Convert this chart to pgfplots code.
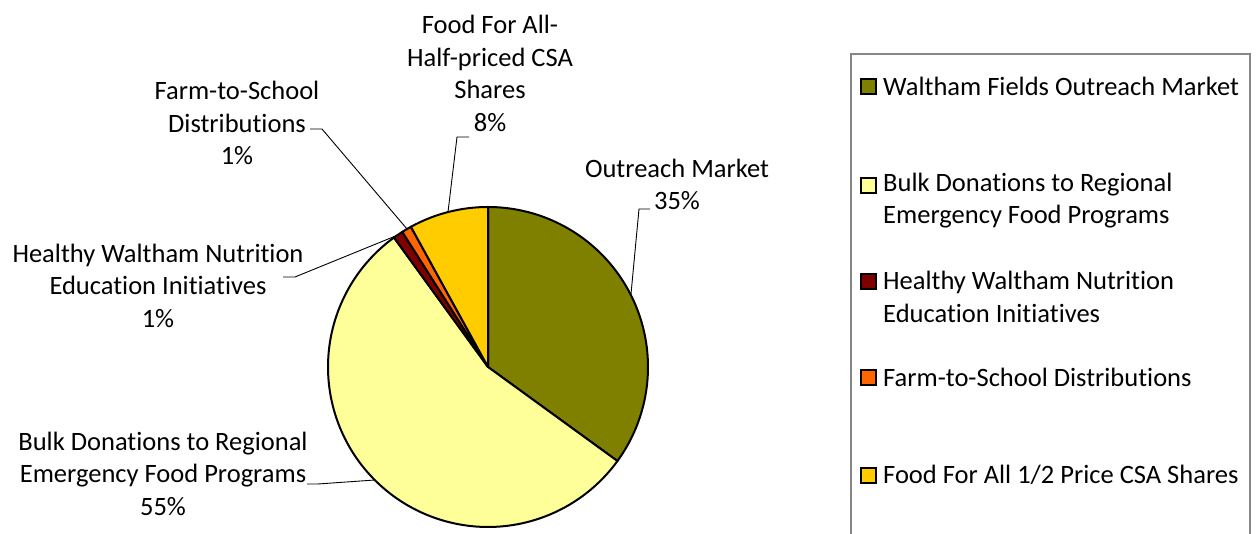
\documentclass[border=0pt]{standalone}
\usepackage{pgfplots}
\pgfplotsset{compat=1.18}
\usepackage{fontspec}
\setmainfont{Carlito}[Ligatures={NoCommon}]
\newcommand{\ti}{t\kern0pt i}
\definecolor{cOlive}{HTML}{808000}
\definecolor{cLight}{HTML}{FFFF99}
\definecolor{cDark}{HTML}{800000}
\definecolor{cOrange}{HTML}{FF6600}
\definecolor{cGold}{HTML}{FFCC00}
\definecolor{cFrame}{HTML}{868686}
\begin{document}
\begin{tikzpicture}[font=\fontsize{26.5}{32.5}\selectfont]
\useasboundingbox (0,0) rectangle (1259pt,534pt);
\begin{axis}[
  anchor=origin, at={(0,0)},
  scale only axis, width=1259pt, height=534pt,
  xmin=0, xmax=1259, ymin=0, ymax=534,
  hide axis, clip=false,
]
% shares (percent): Outreach 35, Bulk 55, Healthy 1, Farm 1, Food For All 8
% angles = share * 3.6 deg, clockwise from 12 o'clock
% pie centre (488,167), radius 160
\addplot[fill=cOlive, draw=black, line width=2pt, domain=90:-36, samples=80, line join=round]
  ({488+160*cos(x)}, {167+160*sin(x)}) -- (axis cs:488,167) -- cycle;
\addplot[fill=cLight, draw=black, line width=2pt, domain=-36:-234, samples=120, line join=round]
  ({488+160*cos(x)}, {167+160*sin(x)}) -- (axis cs:488,167) -- cycle;
\addplot[fill=cDark, draw=black, line width=2pt, domain=-234:-237.6, samples=5, line join=round]
  ({488+160*cos(x)}, {167+160*sin(x)}) -- (axis cs:488,167) -- cycle;
\addplot[fill=cOrange, draw=black, line width=2pt, domain=-237.6:-241.2, samples=5, line join=round]
  ({488+160*cos(x)}, {167+160*sin(x)}) -- (axis cs:488,167) -- cycle;
\addplot[fill=cGold, draw=black, line width=2pt, domain=-241.2:-270, samples=30, line join=round]
  ({488+160*cos(x)}, {167+160*sin(x)}) -- (axis cs:488,167) -- cycle;

% leader lines
\addplot[black, line width=0.9pt] coordinates {(631,240) (639,325) (650,325)};
\addplot[black, line width=0.9pt] coordinates {(448,322) (457,397) (469,397)};
\addplot[black, line width=0.9pt] coordinates {(407,305) (322,405) (310,405)};
\addplot[black, line width=0.9pt] coordinates {(398,299) (295,257) (283,257)};
\addplot[black, line width=0.9pt] coordinates {(375,54) (318,50) (307,50)};

% data labels
\node[align=center] at (axis cs:677,349.5) {Outreach Market\\35\%};
\node[align=center] at (axis cs:490,460.5) {Food For All-\\Half-priced CSA\\Shares\\8\%};
\node[align=center] at (axis cs:237,411) {Farm-to-School\\Distribu\ti ons\\1\%};
\node[align=center] at (axis cs:158,248.5) {Healthy Waltham Nutri\ti on\\Educa\ti on Ini\ti a\ti ves\\1\%};
\node[align=center] at (axis cs:163,60.5) {Bulk Donations to Regional\\Emergency Food Programs\\55\%};

% legend
\draw[cFrame, line width=1.4pt] (axis cs:851,-2) -- (axis cs:851,480) -- (axis cs:1250,480) -- (axis cs:1250,-2);
\draw[black, line width=1.4pt, fill=cOlive]  (axis cs:861,440) rectangle (axis cs:876,455);
\draw[black, line width=1.4pt, fill=cLight]  (axis cs:861,341) rectangle (axis cs:876,356);
\draw[black, line width=1.4pt, fill=cDark]   (axis cs:861,245) rectangle (axis cs:876,260);
\draw[black, line width=1.4pt, fill=cOrange] (axis cs:861,149) rectangle (axis cs:876,164);
\draw[black, line width=1.4pt, fill=cGold]   (axis cs:861,51) rectangle (axis cs:876,66);
\node[anchor=west, align=left, inner xsep=0pt] at (axis cs:883,448) {Waltham Fields Outreach Market};
\node[anchor=west, align=left, inner xsep=0pt] at (axis cs:883,333.5) {Bulk Donations to Regional\\Emergency Food Programs};
\node[anchor=west, align=left, inner xsep=0pt] at (axis cs:883,237) {Healthy Waltham Nutri\ti on\\Educa\ti on Ini\ti a\ti ves};
\node[anchor=west, align=left, inner xsep=0pt] at (axis cs:883,157) {Farm-to-School Distribu\ti ons};
\node[anchor=west, align=left, inner xsep=0pt] at (axis cs:883,59) {Food For All 1/2 Price CSA Shares};
\end{axis}
\end{tikzpicture}
\end{document}
